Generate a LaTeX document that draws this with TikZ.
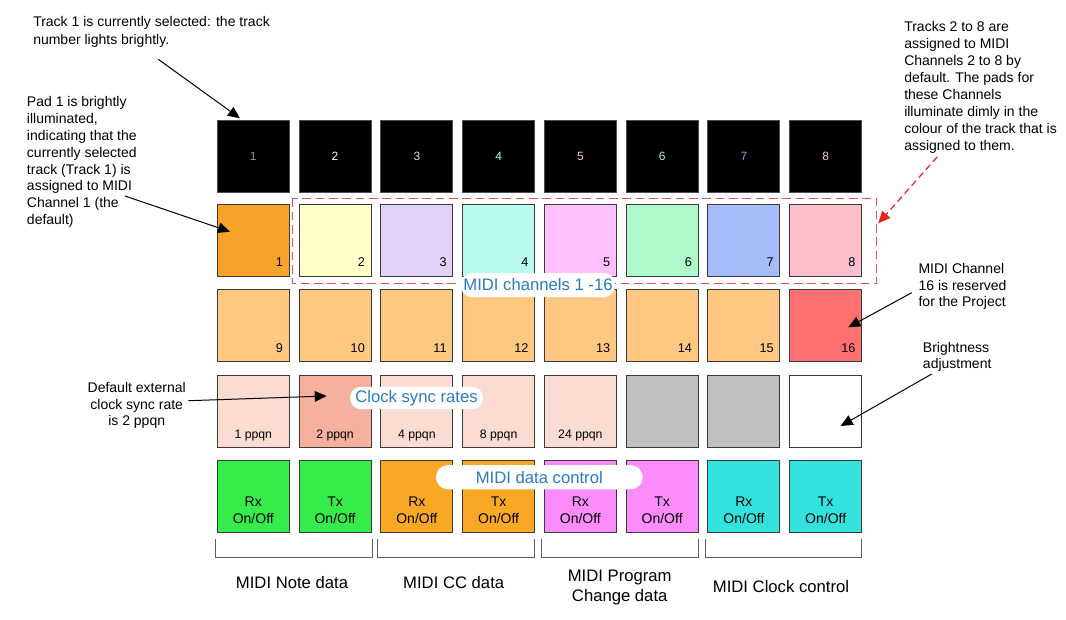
\documentclass[tikz,border=0pt]{standalone}
\usepackage{fontspec}
\setmainfont{Liberation Sans}
\usetikzlibrary{arrows.meta,calc}
\definecolor{tna}{HTML}{B09070}
\definecolor{tnb}{HTML}{FFFFC8}
\definecolor{tnc}{HTML}{E2D2FA}
\definecolor{tnd}{HTML}{B8F8EC}
\definecolor{tne}{HTML}{F8C2F8}
\definecolor{tnf}{HTML}{B2F2CC}
\definecolor{tng}{HTML}{8A9CE8}
\definecolor{tnh}{HTML}{F8C4D0}
\definecolor{cha}{HTML}{F9A22C}
\definecolor{chb}{HTML}{FFFFC8}
\definecolor{chc}{HTML}{E2D2FA}
\definecolor{chd}{HTML}{B8FCEE}
\definecolor{che}{HTML}{FCC0FC}
\definecolor{chf}{HTML}{AEFACC}
\definecolor{chg}{HTML}{A6BCF8}
\definecolor{chh}{HTML}{FCC0CC}
\definecolor{rowthree}{HTML}{FFC882}
\definecolor{chsixteen}{HTML}{FF7070}
\definecolor{rowfour}{HTML}{FADCD2}
\definecolor{rowfoursel}{HTML}{F6B09E}
\definecolor{padgrey}{HTML}{C0C0C0}
\definecolor{rxgreen}{HTML}{35EC4A}
\definecolor{rxorange}{HTML}{F8A825}
\definecolor{rxmagenta}{HTML}{FC8CFC}
\definecolor{rxcyan}{HTML}{33E2DC}
\definecolor{padborder}{HTML}{3A3A3A}
\definecolor{labelblue}{HTML}{2A7CC2}
\definecolor{dashred}{HTML}{E0505A}
\definecolor{arrowred}{HTML}{EE2020}
\definecolor{bracketgrey}{HTML}{606060}
\begin{document}
\begin{tikzpicture}[x=0.75pt,y=-0.75pt,
  pad/.style={draw=padborder,line width=0.75pt,minimum width=54pt,minimum height=54pt,inner sep=0pt,outer sep=0pt},
  toppad/.style={pad,draw=black!70,fill=black,font=\fontsize{9pt}{11pt}\selectfont},
  padnum/.style={anchor=south east,inner sep=0pt,font=\fontsize{9.5pt}{11pt}\selectfont},
  ppqn/.style={anchor=base,inner sep=0pt,font=\fontsize{9.2pt}{11pt}\selectfont},
  rxtx/.style={align=center,inner sep=0pt,font=\fontsize{10.5pt}{12.2pt}\selectfont},
  note/.style={align=left,anchor=north west,inner sep=0pt,font=\fontsize{10.5pt}{12.6pt}\selectfont},
  bluelabel/.style={fill=white,text=labelblue,rounded corners=8pt,inner sep=0pt,font=\fontsize{12.5pt}{15pt}\selectfont},
  grouplabel/.style={align=center,inner sep=0pt,font=\fontsize{12.5pt}{15pt}\selectfont},
  arr/.style={-{Triangle[length=9pt,width=8pt]},line width=0.75pt,black},
  redarr/.style={-{Triangle[length=9pt,width=8pt]},line width=0.9pt,arrowred,dash pattern=on 5pt off 3pt},
  bracket/.style={draw=bracketgrey,line width=0.75pt}]
\useasboundingbox (0,0) rectangle (1066,619);
% top row: track buttons
\foreach \i/\c in {1/tna,2/tnb,3/tnc,4/tnd,5/tne,6/tnf,7/tng,8/tnh}{
  \node[toppad,text=\c] (t\i) at ({253.3+81.77*(\i-1)},156.2) {\i};
}
% row 2: channels 1-8
\foreach \i/\c in {1/cha,2/chb,3/chc,4/chd,5/che,6/chf,7/chg,8/chh}{
  \node[pad,fill=\c] (c\i) at ({253.3+81.77*(\i-1)},240.2) {};
  \node[padnum] (c\i n) at ($(c\i.south east)+(-6,-9)$) {\i};
}
% row 3: channels 9-16
\foreach \i/\c in {1/rowthree,2/rowthree,3/rowthree,4/rowthree,5/rowthree,6/rowthree,7/rowthree,8/chsixteen}{
  \pgfmathtruncatemacro{\ch}{\i+8}
  \node[pad,fill=\c] (d\i) at ({253.3+81.77*(\i-1)},325.9) {};
  \node[padnum] (d\i n) at ($(d\i.south east)+(-6,-9)$) {\ch};
}
% row 4: clock sync rates
\foreach \i/\c/\t in {1/rowfour/1 ppqn,2/rowfoursel/2 ppqn,3/rowfour/4 ppqn,4/rowfour/8 ppqn,5/rowfour/24 ppqn,6/padgrey/,7/padgrey/,8/white/}{
  \node[pad,fill=\c] (e\i) at ({253.3+81.77*(\i-1)},411.2) {};
  \node[ppqn] (e\i t) at ($(e\i.south)+(0,-9)$) {\t};
}
% row 5: MIDI data control
\foreach \i/\c/\t in {1/rxgreen/Rx,2/rxgreen/Tx,3/rxorange/Rx,4/rxorange/Tx,5/rxmagenta/Rx,6/rxmagenta/Tx,7/rxcyan/Rx,8/rxcyan/Tx}{
  \node[pad,fill=\c] (f\i) at ({253.3+81.77*(\i-1)},496.3) {};
  \node[rxtx] (f\i t) at ($(f\i.center)+(0,14)$) {\t\\On/Off};
}
% dashed group of channels 2-8
\draw[dashred,line width=1pt,dash pattern=on 6.5pt off 3.5pt] (292.3,198.3) rectangle (876.7,283.3);
% blue overlay labels
\node[bluelabel,minimum width=115.5pt,minimum height=18pt] (lchan) at (538,285) {MIDI channels 1 -16};
\node[bluelabel,minimum width=99.75pt,minimum height=16.7pt] (lclock) at (416.5,398) {Clock sync rates};
\node[bluelabel,rounded corners=9pt,minimum width=155pt,minimum height=18.2pt] (ldata) at (539.3,477.2) {MIDI data control};
% brackets
\draw[bracket] (215.7,539) -- (215.7,557) -- (372.3,557) -- (372.3,539);
\draw[bracket] (377.7,539) -- (377.7,557) -- (534.3,557) -- (534.3,539);
\draw[bracket] (541.3,539) -- (541.3,557) -- (698.3,557) -- (698.3,539);
\draw[bracket] (705,539) -- (705,557) -- (861.7,557) -- (861.7,539);
% group labels
\node[grouplabel] (gnote) at (292,582.7) {MIDI Note data};
\node[grouplabel] (gcc) at (453.7,582.5) {MIDI CC data};
\node[grouplabel] (gpc) at (619.7,587) {MIDI Program\\Change data};
\node[grouplabel] (gclk) at (781,586.5) {MIDI Clock control};
% annotations
\node[note,font=\fontsize{10.5pt}{13pt}\selectfont] (n1) at (33,16.5) {Track 1 is currently selected: the track\\number lights brightly.};
\node[note] (n2) at (26.7,96.5) {Pad 1 is brightly\\illuminated,\\indicating that the\\currently selected\\track (Track 1) is\\assigned to MIDI\\Channel 1 (the\\default)};
\node[note,font=\fontsize{10.5pt}{12.7pt}\selectfont] (n3) at (904,21.5) {Tracks 2 to 8 are\\assigned to MIDI\\Channels 2 to 8 by\\default. The pads for\\these Channels\\illuminate dimly in the\\colour of the track that is\\assigned to them.};
\node[note,font=\fontsize{10.5pt}{12.3pt}\selectfont] (n4) at (918.3,263.3) {MIDI Channel\\16 is reserved\\for the Project};
\node[note] (n5) at (922.7,341.7) {Brightness\\adjustment};
\node[align=center,inner sep=0pt,font=\fontsize{10.5pt}{12.5pt}\selectfont] (n6) at (136.7,405.5) {Default external\\clock sync rate\\is 2 ppqn};
% arrow end points
\coordinate (a1s) at (158.3,59.3);   \coordinate (a1e) at (240,118.3);
\coordinate (a2s) at (125,196);     \coordinate (a2e) at (230,231.7);
\coordinate (a3s) at (937.3,156.7); \coordinate (a3e) at (878.3,223.3);
\coordinate (a4s) at (911.7,292.7); \coordinate (a4e) at (848.3,327.3);
\coordinate (a5s) at (931.7,374);   \coordinate (a5e) at (840.7,426);
\coordinate (a6s) at (188.3,400.7); \coordinate (a6e) at (326.7,396);
\draw[arr] (a1s) -- (a1e);
\draw[arr] (a2s) -- (a2e);
\draw[redarr] (a3s) -- (a3e);
\draw[arr] (a4s) -- (a4e);
\draw[arr] (a5s) -- (a5e);
\draw[arr] (a6s) -- (a6e);
\end{tikzpicture}
\end{document}
